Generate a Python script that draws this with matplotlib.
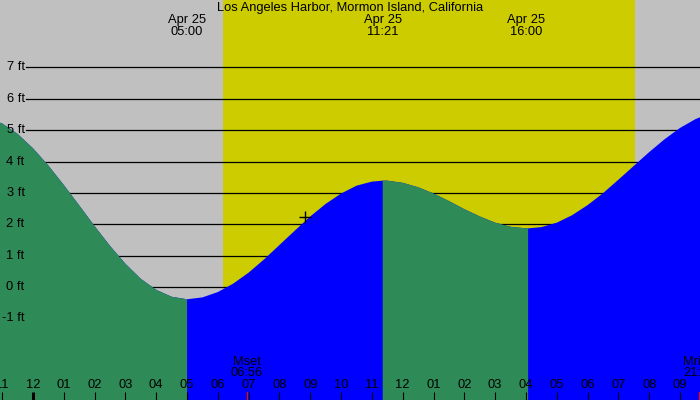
import matplotlib
matplotlib.use('Agg')
import matplotlib.pyplot as plt
import numpy

plt.rcParams['font.family'] = ['Liberation Sans', 'DejaVu Sans']

title = 'Los Angeles Harbor, Mormon Island, California'

# hours after midnight Apr 25, tide height in feet
tide_hours = [-1.5, -1.0, -0.5, 0.0, 0.5, 1.0, 1.5, 2.0, 2.5, 3.0, 3.5, 4.0, 4.5,
              5.0, 5.5, 6.0, 6.5, 7.0, 7.5, 8.0, 8.5, 9.0, 9.5, 10.0, 10.5, 11.0,
              11.35, 11.5, 12.0, 12.5, 13.0, 13.5, 14.0, 14.5, 15.0, 15.5, 16.0,
              16.07, 16.5, 17.0, 17.5, 18.0, 18.5, 19.0, 19.5, 20.0, 20.5, 21.0,
              21.5, 22.0]
tide_feet = [5.40, 5.21, 4.88, 4.42, 3.87, 3.25, 2.60, 1.94, 1.31, 0.74, 0.26, -0.09, -0.31,
             -0.39, -0.33, -0.16, 0.11, 0.46, 0.88, 1.34, 1.80, 2.25, 2.65, 2.98, 3.23, 3.36,
             3.39, 3.39, 3.32, 3.18, 2.98, 2.74, 2.48, 2.25, 2.05, 1.92, 1.87,
             1.87, 1.91, 2.05, 2.29, 2.61, 2.99, 3.42, 3.86, 4.30, 4.71, 5.07,
             5.35, 5.55]

# low / high water turning points (falling before the first one)
turn_hours = [5.0, 11.35, 16.07]

sunrise_hour = 6.17
sunset_hour = 19.54

top_hours = [5.0, 11.35, 16.0]
top_dates = ['Apr 25', 'Apr 25', 'Apr 25']
top_times = ['05:00', '11:21', '16:00']

moon_hours = [6.93, 21.62]
moon_names = ['Mset', 'Mrise']
moon_times = ['06:56', '21:37']

grid_feet = [-1, 0, 1, 2, 3, 4, 5, 6, 7]
hour_ticks = list(range(-1, 22))

now_hour = 8.83
now_feet = 2.23

FS = 9.3


def hour_label(h):
    h12 = h % 12
    if h12 == 0:
        h12 = 12
    return '{0:02d}'.format(h12)


fig = plt.figure(figsize=(7, 4), dpi=100)
fig.patch.set_facecolor('#c0c0c0')
ax = fig.add_axes([0, 0, 1, 1])
ax.set_facecolor('#c0c0c0')
for s in ax.spines.values():
    s.set_visible(False)
ax.set_xticks([])
ax.set_yticks([])
ax.set_xlim(-1.071, 21.649)
ax.set_ylim(-3.60, 9.147)

ax.axvspan(sunrise_hour, sunset_hour, color='#cccc00', lw=0, zorder=0)

for ft in grid_feet:
    ax.axhline(ft, xmin=0.037, xmax=1, color='black', lw=0.9, zorder=1)
    ax.text(0.035, ft, '{0} ft'.format(ft), transform=ax.get_yaxis_transform(),
            ha='right', va='center', fontsize=FS, color='black', zorder=6)

t = numpy.asarray(tide_hours)
h = numpy.asarray(tide_feet)
# rising water (blue) under everything, falling water (green) on top
ax.fill_between(t, -10, h, color='#0000ff', lw=0, zorder=2)
edges = [-100] + turn_hours + [100]
for i in range(0, len(edges) - 1, 2):
    mask = (t >= edges[i]) & (t <= edges[i + 1])
    ax.fill_between(t[mask], -10, h[mask], color='#2e8b57', lw=0, zorder=3)

ax.plot([now_hour], [now_feet], marker='+', color='black', ms=9, mew=1, zorder=4)

xt = ax.get_xaxis_transform()
ax.text(0.5, 1 - 8 / 400, title, transform=ax.transAxes, ha='center', va='center',
        fontsize=FS, zorder=6)
for hr, d, tm in zip(top_hours, top_dates, top_times):
    ax.text(hr, 1 - 20 / 400, d, transform=xt, ha='center', va='center', fontsize=FS, zorder=6)
    ax.text(hr, 1 - 32 / 400, tm, transform=xt, ha='center', va='center', fontsize=FS, zorder=6)

for hr, nm, tm in zip(moon_hours, moon_names, moon_times):
    ax.text(hr, 1 - 362 / 400, nm, transform=xt, ha='center', va='center', fontsize=FS, zorder=6)
    ax.text(hr, 1 - 373 / 400, tm, transform=xt, ha='center', va='center', fontsize=FS, zorder=6)
    ax.plot([hr, hr], [0, 8 / 400], transform=xt, color='red', lw=0.8, zorder=5)

for hr in hour_ticks:
    ax.text(hr, 1 - 385 / 400, hour_label(hr), transform=xt, ha='center', va='center',
            fontsize=FS, zorder=6)
    lw = 2.2 if hr % 24 == 0 else 0.8
    ax.plot([hr, hr], [0, 8 / 400], transform=xt, color='black', lw=lw, zorder=5,
            solid_capstyle='butt')

fig.savefig('out.png', dpi=100, facecolor=fig.get_facecolor())
